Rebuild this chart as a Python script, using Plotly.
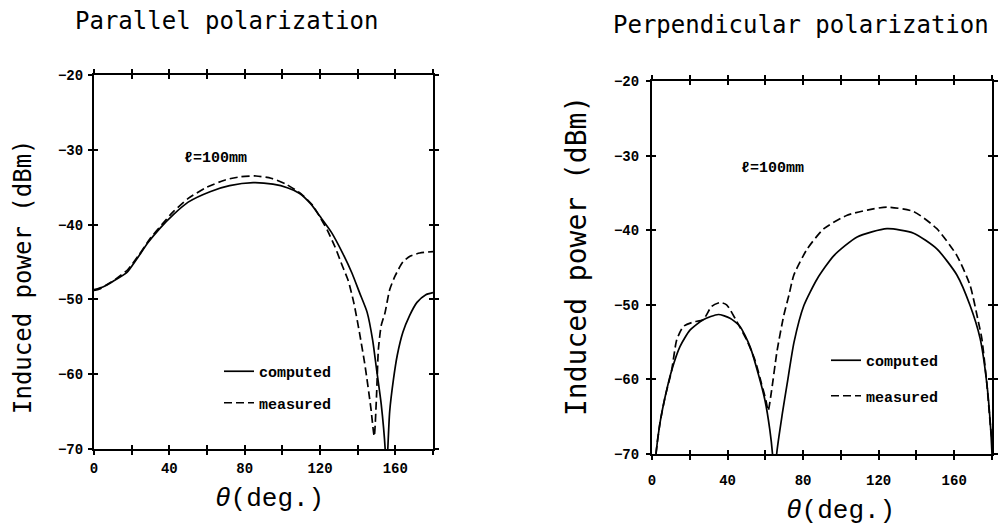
import plotly.graph_objects as go

# ---------------- data ----------------
par_theta_comp = [0, 5, 10, 17.5, 23, 28.7, 35, 42, 50, 61.6, 72, 84.5, 95, 103, 109, 115, 120, 126,
                  132, 137, 141, 145, 148, 150, 152.5, 154.6, 155.2, 156, 157, 159, 161, 164, 167.5,
                  171.5, 176, 180]
par_comp = [-48.7, -48.3, -47.6, -46.4, -44.5, -42.4, -40.5, -38.7, -37.0, -35.6, -34.8, -34.4, -34.6,
            -35.1, -35.8, -37.2, -38.9, -41.0, -43.8, -46.5, -49.1, -51.7, -55.5, -59.3, -64.0, -70.0,
            -75.0, -70.0, -65.0, -60.7, -57.5, -54.4, -52.2, -50.4, -49.4, -49.1]

par_theta_meas = [0, 3, 7, 12, 18, 24, 30, 36, 42, 50, 60, 70, 78, 86, 94, 102, 110, 116, 120, 124,
                  128, 132, 135, 138, 141, 144, 147, 148.8, 150, 151, 152.5, 154.5, 157, 160, 164,
                  168, 173, 180]
par_meas = [-48.8, -48.6, -48.0, -47.2, -46.0, -44.0, -41.8, -40.0, -38.3, -36.5, -35.0, -34.0, -33.6,
            -33.5, -33.8, -34.6, -35.9, -37.4, -39.0, -40.8, -43.0, -45.6, -47.5, -50.5, -54.5, -59.0,
            -64.5, -68.3, -63.0, -56.7, -53.5, -51.8, -48.7, -46.8, -45.0, -44.2, -43.8, -43.6]

perp_theta_comp = [0, 2.1, 4.2, 6.9, 10.4, 14.8, 20.1, 27.1, 35.1, 41.3, 46.6, 51.9, 56.2, 59.8, 62.4,
                   63.8, 65.0, 66.0, 69.0, 71.6, 75.2, 80.4, 87.5, 96.3, 108.6, 124.4, 138.5, 150.8,
                   161.4, 168.4, 173.7, 177.2, 179.3, 180]
perp_comp = [-78, -70, -65.9, -62.4, -58.8, -55.6, -53.4, -52.0, -51.3, -51.8, -52.9, -55.6, -59.2,
             -62.8, -66.8, -70, -76, -70, -64.6, -60.5, -55.0, -50.1, -46.5, -43.4, -40.9, -39.8,
             -40.4, -42.5, -46.0, -50.1, -54.5, -60.4, -66.6, -70]

perp_theta_meas = [0, 2.1, 4.2, 6.9, 10.4, 13.1, 16.6, 21.9, 27.1, 31.6, 36.0, 39.5, 44.8, 50.1, 54.5,
                   58.0, 60.3, 61.5, 63.3, 66.2, 69.7, 72.5, 75.1, 82.2, 91.0, 103.3, 114, 124.4,
                   138.5, 150.8, 161.4, 168.4, 172.8, 174.6, 177.2, 179.3, 180]
perp_meas = [-78, -70, -65.9, -62.4, -58.8, -54.7, -52.9, -52.3, -52.0, -50.2, -49.7, -50.0, -52.2,
             -54.7, -57.4, -60.6, -62.8, -64.2, -61.5, -56.2, -51.5, -48.7, -46.0, -42.5, -39.8,
             -38.0, -37.3, -36.9, -37.5, -39.8, -43.4, -47.4, -52.3, -54.5, -60.4, -66.6, -68]

x_ticks = [0, 20, 40, 60, 80, 100, 120, 140, 160, 180]
x_ticktext = ["0", "", "40", "", "80", "", "120", "", "160", ""]
y_ticks = [-70, -60, -50, -40, -30, -20]

titles = ["Parallel polarization", "Perpendicular polarization"]
y_title = "Induced power (dBm)"
x_title = "<i>θ</i>(deg.)"
note = "ℓ=100mm"
names = ["computed", "measured"]

# ---------------- layout helpers ----------------
W, H = 1003, 527
def fx(p):
    return p / W
def fy(p):
    return 1 - p / H

L_dom_x = [fx(94), fx(433)]
L_dom_y = [fy(449), fy(75)]
R_dom_x = [fx(652), fx(992)]
R_dom_y = [fy(454), fy(81)]

MONO = "Liberation Mono"
TICKFONT = dict(family=MONO, size=14, color="black", weight="bold")

SOLID = dict(color="black", width=1.7, shape="spline", smoothing=0.6)
DASHED = dict(color="black", width=1.7, dash="8px,4px", shape="spline", smoothing=0.6)

fig = go.Figure()

# left panel
fig.add_trace(go.Scatter(x=par_theta_comp, y=par_comp, mode="lines", name=names[0],
                         line=SOLID, xaxis="x", yaxis="y", legend="legend", legendgroup="a"))
fig.add_trace(go.Scatter(x=par_theta_meas, y=par_meas, mode="lines", name=names[1],
                         line=DASHED, xaxis="x", yaxis="y", legend="legend", legendgroup="b"))
# right panel
fig.add_trace(go.Scatter(x=perp_theta_comp, y=perp_comp, mode="lines", name=names[0],
                         line=SOLID, xaxis="x2", yaxis="y2", legend="legend2", legendgroup="c"))
fig.add_trace(go.Scatter(x=perp_theta_meas, y=perp_meas, mode="lines", name=names[1],
                         line=DASHED, xaxis="x2", yaxis="y2", legend="legend2", legendgroup="d"))
# dummy traces for overlay (inside-tick) axes
fig.add_trace(go.Scatter(x=[None], y=[None], xaxis="x3", yaxis="y3", showlegend=False, hoverinfo="skip"))
fig.add_trace(go.Scatter(x=[None], y=[None], xaxis="x4", yaxis="y4", showlegend=False, hoverinfo="skip"))

def xax(dom, anchor, standoff, overlay=None):
    d = dict(domain=dom, range=[0, 180], tickmode="array", tickvals=x_ticks, ticktext=x_ticktext,
             showgrid=False, zeroline=False, anchor=anchor, mirror="allticks", tickcolor="black",
             tickwidth=1.5, fixedrange=True, automargin=False)
    if overlay:
        d.update(overlaying=overlay, showline=False, ticks="inside", ticklen=4, showticklabels=False)
    else:
        d.update(showline=True, linecolor="black", linewidth=2, ticks="outside", ticklen=4,
                 tickfont=TICKFONT, ticklabelstandoff=standoff)
    return d

def yax(dom, anchor, standoff, overlay=None):
    d = dict(domain=dom, range=[-70, -20], tickmode="array", tickvals=y_ticks,
             showgrid=False, zeroline=False, anchor=anchor, mirror="allticks", tickcolor="black",
             tickwidth=1.5, fixedrange=True, automargin=False)
    if overlay:
        d.update(overlaying=overlay, showline=False, ticks="inside", ticklen=4, showticklabels=False)
    else:
        d.update(showline=True, linecolor="black", linewidth=2, ticks="outside", ticklen=4,
                 tickfont=TICKFONT, ticklabelstandoff=standoff)
    return d

def ann(text, x, y, size, family, angle=0, weight="normal"):
    return dict(text=text, x=fx(x), y=fy(y), xref="paper", yref="paper", showarrow=False,
                xanchor="center", yanchor="middle", textangle=angle,
                font=dict(family=family, size=size, color="black", weight=weight))

annotations = [
    ann(titles[0], 226, 21, 24, "DejaVu Sans Mono"),
    ann(titles[1], 801, 25, 24, "DejaVu Sans Mono"),
    ann(y_title, 23, 277, 24, "DejaVu Sans Mono", angle=-90),
    ann(y_title, 576, 256, 28, "DejaVu Sans Mono", angle=-90),
    ann(x_title, 269, 499, 26, MONO),
    ann(x_title, 840, 511, 26, MONO),
    ann(note, 215, 158, 15, MONO, weight="bold"),
    ann(note, 772, 168, 15, MONO, weight="bold"),
]

legend_common = dict(xref="paper", yref="paper", xanchor="left", yanchor="top",
                     bgcolor="rgba(0,0,0,0)", itemwidth=30, traceorder="grouped",
                     font=dict(family=MONO, size=15, color="black", weight="bold"))

fig.update_layout(
    width=W, height=H,
    margin=dict(l=0, r=0, t=0, b=0, autoexpand=False),
    paper_bgcolor="white", plot_bgcolor="white",
    xaxis=xax(L_dom_x, "y", 1),
    yaxis=yax(L_dom_y, "x", 2),
    xaxis2=xax(R_dom_x, "y2", 8),
    yaxis2=yax(R_dom_y, "x2", 4),
    xaxis3=xax(L_dom_x, "y3", 0, overlay="x"),
    yaxis3=yax(L_dom_y, "x3", 0, overlay="y"),
    xaxis4=xax(R_dom_x, "y4", 0, overlay="x2"),
    yaxis4=yax(R_dom_y, "x4", 0, overlay="y2"),
    legend=dict(x=fx(219), y=fy(355), tracegroupgap=9, **legend_common),
    legend2=dict(x=fx(826), y=fy(344), tracegroupgap=13, **legend_common),
    annotations=annotations,
    showlegend=True,
)

fig.write_html("out.html", config={"displayModeBar": False},
               post_script="document.body.style.margin='0';")
